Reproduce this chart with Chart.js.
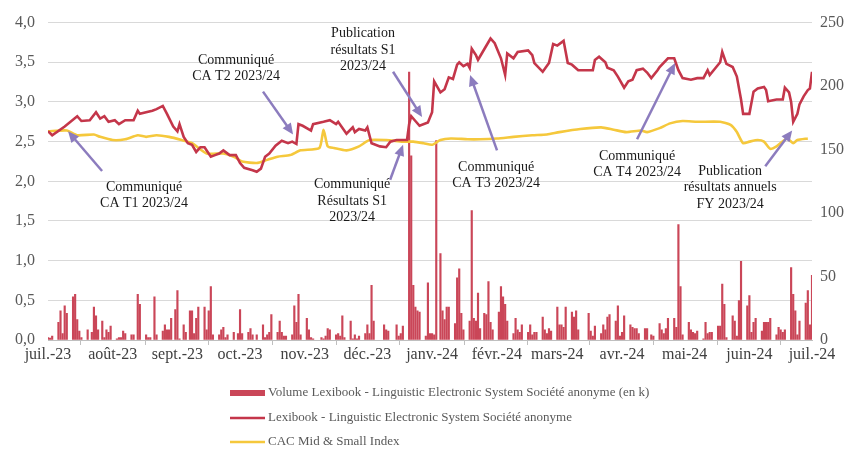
<!DOCTYPE html>
<html>
<head>
<meta charset="utf-8">
<script src="https://cdn.jsdelivr.net/npm/chart.js@4"></script>
<style>
  html, body { margin: 0; padding: 0; background: #fff; }
  #wrap { width: 858px; height: 452px; }
</style>
</head>
<body>
<div id="wrap"><canvas id="chart" width="858" height="452"></canvas></div>
<script>
// x = days since 1 July 2023
const monthDays = [0, 31, 62, 92, 123, 153, 184, 215, 244, 275, 305, 336, 366];
const monthLabels = ['juil.-23', 'août-23', 'sept.-23', 'oct.-23', 'nov.-23', 'déc.-23', 'janv.-24',
  'févr.-24', 'mars-24', 'avr.-24', 'mai-24', 'juin-24', 'juil.-24'];

// Lexibook share price (EUR), [day, price]
const lexibookPrice = [
  [0, 2.63], [2, 2.58], [8, 2.69], [14, 2.82], [16, 2.76], [20, 2.77], [23, 2.87], [25, 2.79], [27, 2.82],
  [29, 2.75], [32, 2.77], [34, 2.72], [37, 2.77], [41, 2.77], [43, 2.89], [44, 2.85], [47, 2.87], [50, 2.89],
  [52, 2.91], [55, 2.95], [57, 2.85], [60, 2.69], [62, 2.63], [63, 2.72], [65, 2.56], [67, 2.48], [69, 2.46],
  [71, 2.37], [73, 2.43], [75, 2.43], [78, 2.31], [80, 2.33], [82, 2.35], [84, 2.39], [87, 2.33], [90, 2.33],
  [92, 2.23], [94, 2.17], [98, 2.14], [100, 2.12], [102, 2.16], [104, 2.31], [106, 2.35], [109, 2.45],
  [112, 2.51], [115, 2.48], [117, 2.50], [119, 2.47], [120, 2.72], [122, 2.70], [126, 2.64], [127, 2.72],
  [132, 2.75], [135, 2.77], [138, 2.72], [139, 2.75], [143, 2.60], [146, 2.68], [147, 2.62], [149, 2.66],
  [152, 2.64], [153, 2.68], [155, 2.48], [159, 2.44], [162, 2.43], [164, 2.50], [167, 2.52], [170, 2.52],
  [172, 2.52], [173, 2.72], [174, 2.82], [176, 2.76], [178, 2.70], [182, 2.74], [184, 2.87], [185, 3.26],
  [188, 3.12], [190, 3.16], [192, 3.31], [194, 3.29], [196, 3.47], [197, 3.50], [199, 3.45], [201, 3.48],
  [202, 3.43], [203, 3.67], [205, 3.59], [206, 3.53], [208, 3.62], [212, 3.80], [214, 3.74], [217, 3.55],
  [219, 3.34], [220, 3.61], [223, 3.55], [225, 3.63], [230, 3.65], [232, 3.59], [233, 3.49], [237, 3.38],
  [240, 3.49], [242, 3.73], [244, 3.71], [247, 3.77], [249, 3.49], [251, 3.47], [254, 3.40], [261, 3.40],
  [262, 3.53], [264, 3.57], [267, 3.50], [268, 3.43], [271, 3.40], [273, 3.32], [276, 3.18], [278, 3.26],
  [280, 3.28], [282, 3.40], [285, 3.42], [287, 3.37], [289, 3.30], [292, 3.40], [293, 3.44], [297, 3.55],
  [300, 3.55], [302, 3.40], [304, 3.30], [308, 3.28], [311, 3.30], [314, 3.30], [316, 3.40], [317, 3.34],
  [322, 3.50], [323, 3.63], [325, 3.48], [328, 3.44], [329, 3.38], [330, 3.32], [332, 3.03], [333, 2.85],
  [336, 2.85], [338, 3.13], [340, 3.17], [343, 3.19], [344, 3.15], [345, 3.01], [349, 3.03], [352, 3.03],
  [353, 3.18], [355, 3.12], [356, 3.00], [357, 2.75], [359, 2.85], [360, 2.97], [362, 3.07], [364, 3.15],
  [365, 3.17], [366, 3.38]
];

// CAC Mid & Small, rebased to Lexibook, [day, value]
const cacMidSmall = [
  [0, 2.63], [9, 2.64], [14, 2.58], [22, 2.59], [25, 2.56], [31, 2.52], [37, 2.53], [43, 2.58], [47, 2.56],
  [52, 2.58], [58, 2.56], [64, 2.52], [69, 2.48], [76, 2.35], [84, 2.35], [89, 2.31], [93, 2.25], [100, 2.23],
  [105, 2.27], [110, 2.31], [116, 2.33], [121, 2.39], [130, 2.42], [132, 2.65], [134, 2.44], [137, 2.42],
  [143, 2.39], [149, 2.44], [154, 2.52], [162, 2.52], [170, 2.50], [175, 2.50], [180, 2.48], [184, 2.46],
  [188, 2.52], [193, 2.54], [201, 2.53], [207, 2.53], [215, 2.54], [223, 2.56], [232, 2.58], [239, 2.59],
  [245, 2.62], [255, 2.66], [265, 2.68], [271, 2.65], [277, 2.62], [284, 2.64], [287, 2.62], [293, 2.67],
  [298, 2.73], [304, 2.76], [311, 2.75], [322, 2.75], [327, 2.71], [330, 2.62], [333, 2.48], [336, 2.50],
  [340, 2.52], [343, 2.50], [346, 2.41], [349, 2.44], [354, 2.54], [357, 2.48], [359, 2.52], [364, 2.54]
];

// traded volume (thousands of shares), [day, volume]
const lexibookVolume = [
  [0, 2], [1, 1.5], [2, 3], [5, 14], [6, 23], [7, 5], [8, 27], [9, 21], [12, 34], [13, 36], [14, 16], [15, 7],
  [16, 2], [19, 8], [21, 6], [22, 26], [23, 19], [24, 8], [26, 15], [27, 2], [28, 8], [29, 6], [30, 11],
  [33, 1], [34, 2], [35, 2], [36, 7], [37, 5], [40, 4], [41, 4], [43, 36], [44, 28], [47, 4], [48, 2], [49, 2],
  [51, 34], [52, 4], [55, 7], [56, 12], [57, 8], [58, 8], [59, 17], [61, 24], [62, 39], [63, 1], [65, 12],
  [66, 6], [68, 23], [69, 23], [70, 5], [71, 17], [72, 26], [75, 26], [76, 8], [77, 23], [78, 42], [79, 4],
  [82, 4], [83, 8], [84, 10], [85, 2], [86, 4], [89, 6], [91, 5], [92, 24], [93, 5], [96, 6], [97, 9], [98, 4],
  [100, 4], [103, 12], [104, 2], [105, 4], [106, 6], [107, 20], [110, 6], [111, 15], [112, 6], [113, 3],
  [114, 3], [117, 4], [118, 27], [119, 14], [120, 36], [121, 4], [124, 17], [125, 8], [126, 2], [127, 1],
  [131, 2], [132, 1], [133, 3], [134, 9], [135, 8], [138, 4], [139, 5], [140, 3], [141, 19], [142, 2],
  [145, 15], [146, 1], [147, 4], [148, 1], [149, 3], [152, 5], [153, 12], [154, 5], [155, 43], [156, 15],
  [161, 12], [162, 8], [163, 7], [167, 12], [168, 3], [169, 5], [170, 11], [173, 211], [174, 145], [175, 43],
  [176, 26], [177, 23], [178, 22], [181, 3], [182, 45], [183, 5], [184, 5], [185, 4], [186, 157], [188, 68],
  [189, 23], [190, 16], [191, 26], [192, 26], [195, 13], [196, 49], [197, 56], [198, 21], [199, 8], [202, 15],
  [203, 102], [204, 17], [205, 15], [206, 37], [207, 9], [209, 21], [210, 20], [211, 46], [212, 14], [213, 8],
  [216, 22], [217, 42], [218, 34], [219, 28], [220, 15], [223, 5], [224, 17], [225, 8], [226, 6], [227, 12],
  [230, 6], [231, 12], [232, 4], [233, 6], [234, 6], [237, 18], [238, 8], [239, 5], [240, 9], [241, 7],
  [244, 26], [245, 12], [246, 12], [247, 10], [248, 26], [251, 22], [252, 18], [253, 23], [254, 8], [259, 21],
  [260, 7], [261, 3], [262, 11], [265, 5], [266, 12], [267, 8], [268, 18], [269, 20], [272, 15], [273, 27],
  [274, 3], [275, 6], [276, 19], [279, 12], [280, 10], [281, 9], [282, 9], [283, 5], [286, 9], [287, 9],
  [289, 4], [290, 3], [293, 13], [294, 8], [295, 5], [296, 9], [297, 17], [300, 17], [301, 10], [302, 91],
  [303, 42], [304, 4], [307, 14], [308, 8], [309, 6], [310, 5], [311, 7], [314, 1], [315, 14], [316, 5],
  [317, 6], [318, 6], [321, 11], [322, 11], [323, 44], [324, 28], [325, 2], [328, 19], [329, 15], [330, 3],
  [331, 31], [332, 62], [335, 27], [336, 35], [337, 6], [338, 14], [339, 17], [342, 7], [343, 14], [344, 14],
  [345, 14], [346, 17], [349, 4], [350, 10], [351, 8], [352, 6], [353, 8], [356, 57], [357, 36], [358, 23],
  [359, 4], [360, 15], [363, 29], [364, 39], [365, 12], [366, 51]
];

// callouts: text lines, text anchor and arrow, all in [day, price]
const callouts = [
  { text: ['Communiqué', 'CA T1 2023/24'], at: [46, 1.93], from: [25.9, 2.13], to: [9.6, 2.63] },
  { text: ['Communiqué', 'CA T2 2023/24'], at: [90.1, 3.53], from: [103, 3.13], to: [117.4, 2.59] },
  { text: ['Publication', 'résultats S1', '2023/24'], at: [150.9, 3.86], from: [165.3, 3.38], to: [179.2, 2.81] },
  { text: ['Communiqué', 'Résultats S1', '2023/24'], at: [145.7, 1.96], from: [163.9, 2.02], to: [170.1, 2.46] },
  { text: ['Communiqué', 'CA T3 2023/24'], at: [214.7, 2.18], from: [215.1, 2.39], to: [202.2, 3.34] },
  { text: ['Communiqué', 'CA T4 2023/24'], at: [282.2, 2.32], from: [282.2, 2.53], to: [300.4, 3.49] },
  { text: ['Publication', 'résultats annuels', 'FY 2023/24'], at: [326.8, 2.13], from: [343.6, 2.19], to: [356.5, 2.64] }
];

const RED = 'rgb(196, 54, 74)';
const BAR = 'rgb(202, 70, 88)';
const YELLOW = 'rgb(245, 200, 60)';
const ARROW = 'rgb(140, 124, 190)';
const SERIF = '"Liberation Serif", "Times New Roman", serif';

const toXY = arr => arr.map(([x, y]) => ({ x, y }));

const calloutPlugin = {
  id: 'callouts',
  afterDatasetsDraw(chart) {
    const { ctx, scales: { x, y } } = chart;
    ctx.save();
    callouts.forEach(c => {
      // arrow
      const x0 = x.getPixelForValue(c.from[0]), y0 = y.getPixelForValue(c.from[1]);
      const x1 = x.getPixelForValue(c.to[0]), y1 = y.getPixelForValue(c.to[1]);
      const ang = Math.atan2(y1 - y0, x1 - x0);
      const head = 11;
      ctx.strokeStyle = ARROW;
      ctx.fillStyle = ARROW;
      ctx.lineWidth = 2.5;
      ctx.beginPath();
      ctx.moveTo(x0, y0);
      ctx.lineTo(x1 - Math.cos(ang) * head * 0.8, y1 - Math.sin(ang) * head * 0.8);
      ctx.stroke();
      ctx.beginPath();
      ctx.moveTo(x1, y1);
      ctx.lineTo(x1 - head * Math.cos(ang) + 5 * Math.sin(ang), y1 - head * Math.sin(ang) - 5 * Math.cos(ang));
      ctx.lineTo(x1 - head * Math.cos(ang) - 5 * Math.sin(ang), y1 - head * Math.sin(ang) + 5 * Math.cos(ang));
      ctx.closePath();
      ctx.fill();
      // text
      const tx = x.getPixelForValue(c.at[0]), ty = y.getPixelForValue(c.at[1]);
      ctx.fillStyle = '#1a1a1a';
      ctx.font = '14px ' + SERIF;
      ctx.textAlign = 'center';
      ctx.textBaseline = 'middle';
      c.text.forEach((t, i) => ctx.fillText(t, tx, ty + i * 16.5));
    });
    ctx.restore();
  },
  afterDraw(chart) {
    // legend, one item per row under the chart
    const { ctx } = chart;
    const rows = [393, 418, 442];
    ctx.save();
    ctx.font = '13px ' + SERIF;
    ctx.textBaseline = 'middle';
    ctx.textAlign = 'left';
    chart.data.datasets.forEach((ds, i) => {
      const yy = rows[i];
      ctx.strokeStyle = ds.legendColor;
      ctx.lineWidth = ds.type === 'bar' ? 6 : 2.5;
      ctx.beginPath();
      ctx.moveTo(230, yy);
      ctx.lineTo(265, yy);
      ctx.stroke();
      ctx.fillStyle = '#595959';
      ctx.fillText(ds.label, 268, yy);
    });
    ctx.restore();
  }
};

new Chart(document.getElementById('chart'), {
  type: 'line',
  data: {
    datasets: [
      {
        type: 'bar',
        label: 'Volume Lexibook - Linguistic Electronic System Société anonyme (en k)',
        data: toXY(lexibookVolume),
        yAxisID: 'y2',
        backgroundColor: BAR,
        legendColor: BAR,
        barThickness: 1.5,
        order: 3
      },
      {
        type: 'line',
        label: 'Lexibook - Linguistic Electronic System Société anonyme',
        data: toXY(lexibookPrice),
        yAxisID: 'y',
        borderColor: RED,
        legendColor: RED,
        borderWidth: 2.6,
        pointRadius: 0,
        tension: 0,
        order: 1
      },
      {
        type: 'line',
        label: 'CAC Mid & Small Index',
        data: toXY(cacMidSmall),
        yAxisID: 'y',
        borderColor: YELLOW,
        legendColor: YELLOW,
        borderWidth: 2.6,
        pointRadius: 0,
        tension: 0.2,
        order: 2
      }
    ]
  },
  options: {
    responsive: false,
    animation: false,
    layout: { padding: { top: 17, left: 0, right: 0, bottom: 0 } },
    plugins: {
      legend: { display: false },
      tooltip: { enabled: false }
    },
    scales: {
      x: {
        type: 'linear',
        min: 0,
        max: 366,
        offset: false,
        afterBuildTicks: s => { s.ticks = monthDays.map(v => ({ value: v })); },
        afterFit: s => { s.height = 112; },
        ticks: {
          autoSkip: false,
          maxRotation: 0,
          padding: 0,
          color: '#404040',
          font: { family: SERIF, size: 16 },
          callback: v => monthLabels[monthDays.indexOf(v)]
        },
        grid: { drawOnChartArea: false, drawTicks: true, tickLength: 5, color: '#bfbfbf' },
        border: { color: '#bfbfbf' }
      },
      y: {
        position: 'left',
        min: 0,
        max: 4,
        afterFit: s => { s.width = 48; },
        ticks: {
          stepSize: 0.5,
          padding: 13,
          color: '#595959',
          font: { family: SERIF, size: 16 },
          callback: v => v.toFixed(1).replace('.', ',')
        },
        grid: { color: '#d9d9d9', drawTicks: false },
        border: { display: false }
      },
      y2: {
        position: 'right',
        min: 0,
        max: 250,
        afterFit: s => { s.width = 46; },
        ticks: {
          stepSize: 50,
          padding: 8,
          color: '#595959',
          font: { family: SERIF, size: 16 }
        },
        grid: { drawOnChartArea: false, drawTicks: false },
        border: { display: false }
      }
    }
  },
  plugins: [calloutPlugin]
});
</script>
</body>
</html>
